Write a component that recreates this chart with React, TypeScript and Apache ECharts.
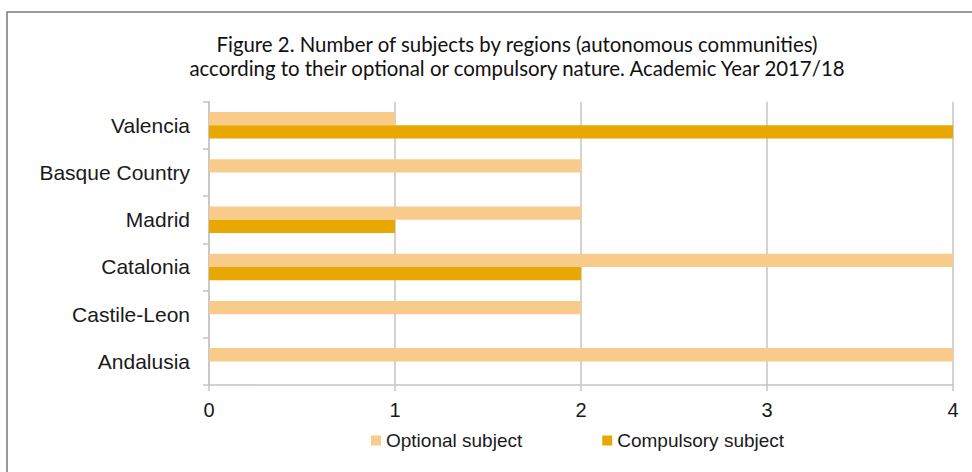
import React, { useEffect, useRef } from "react";
import * as echarts from "echarts";

const regions = ["Andalusia", "Castile-Leon", "Catalonia", "Madrid", "Basque Country", "Valencia"];
const optionalSubjects = [4, 2, 4, 2, 2, 1];
const compulsorySubjects = [0, 0, 2, 1, 0, 4];
const titleLines = [
  "Figure 2. Number of subjects by regions (autonomous communities)",
  "according to their optional or compulsory nature. Academic Year 2017/18",
];
const seriesNames = ["Optional subject", "Compulsory subject"];

export default function App() {
  const ref = useRef<HTMLDivElement>(null);
  useEffect(() => {
    document.body.style.margin = "0";
    const chart = echarts.init(ref.current!, null, { renderer: "svg" });
    chart.setOption({
      animation: false,
      backgroundColor: "#ffffff",
      textStyle: { fontFamily: "Liberation Sans" },
      graphic: [
        {
          type: "rect",
          shape: { x: 7, y: 12, width: 1000, height: 500 },
          style: { fill: "none", stroke: "#7a7a7a", lineWidth: 1.5 },
          silent: true,
        },
        {
          type: "text",
          x: 517,
          y: 44,
          style: {
            text: titleLines[0],
            font: "20.4px Lato",
            fill: "#111111",
            textAlign: "center",
            textVerticalAlign: "middle",
          },
        },
        {
          type: "text",
          x: 517,
          y: 68,
          style: {
            text: titleLines[1],
            font: "20.4px Lato",
            fill: "#111111",
            textAlign: "center",
            textVerticalAlign: "middle",
          },
        },
      ],
      legend: {
        data: seriesNames,
        left: 371,
        top: 431,
        padding: 0,
        icon: "rect",
        itemWidth: 10,
        itemHeight: 10,
        itemGap: 80,
        textStyle: { fontFamily: "Liberation Sans", fontSize: 19, color: "#1a1a1a" },
      },
      grid: { left: 209, right: 19, top: 101.7, bottom: 87, containLabel: false },
      xAxis: {
        type: "value",
        min: 0,
        max: 4,
        interval: 1,
        axisLine: { show: true, lineStyle: { color: "#c4c4c4", width: 1.5 } },
        axisTick: { show: true, length: 6, lineStyle: { color: "#c4c4c4", width: 1.5 } },
        splitLine: { show: true, lineStyle: { color: "#c4c4c4", width: 1.5 } },
        axisLabel: { fontFamily: "Liberation Sans", fontSize: 20, color: "#1a1a1a", margin: 15 },
      },
      yAxis: {
        type: "category",
        data: regions,
        axisLine: { show: true, lineStyle: { color: "#c4c4c4", width: 1.5 } },
        axisTick: { show: true, length: 6, alignWithLabel: false, lineStyle: { color: "#c4c4c4", width: 1.5 } },
        axisLabel: { fontFamily: "Liberation Sans", fontSize: 21, color: "#1a1a1a", margin: 19 },
      },
      series: [
        {
          name: seriesNames[0],
          type: "bar",
          data: optionalSubjects,
          barWidth: 13.3,
          barGap: "0%",
          itemStyle: { color: "#f9cb8a" },
        },
        {
          name: seriesNames[1],
          type: "bar",
          data: compulsorySubjects,
          barWidth: 13.3,
          barGap: "0%",
          itemStyle: { color: "#e9a800" },
        },
      ],
    });
    return () => chart.dispose();
  }, []);
  return <div ref={ref} style={{ width: 972, height: 472 }} />;
}
